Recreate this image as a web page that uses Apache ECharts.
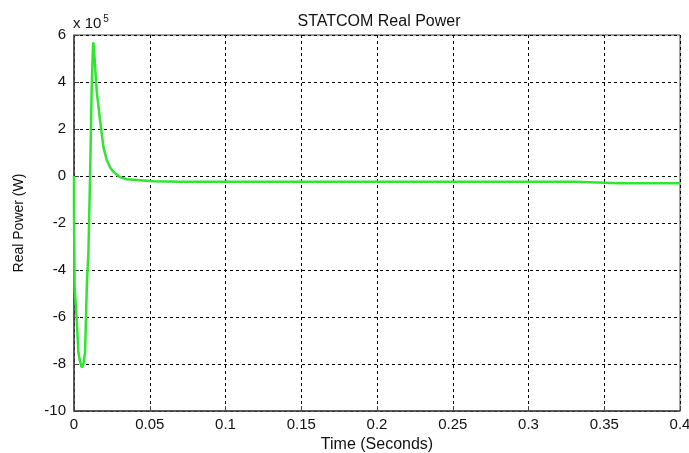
<!DOCTYPE html>
<html>
<head>
<meta charset="utf-8">
<script src="https://cdn.jsdelivr.net/npm/echarts@6/dist/echarts.min.js"></script>
<style>
  html, body { margin: 0; padding: 0; background: #fff; }
  #chart { width: 689px; height: 453px; }
</style>
</head>
<body>
<div id="chart"></div>
<script>
// STATCOM real power response, values in units of 10^5 W
const timeSec = [0, 0, 0.0004, 0.0018, 0.0029, 0.0040, 0.0051, 0.0062, 0.0073, 0.0085, 0.0095,
  0.0106, 0.0117, 0.0124, 0.0128, 0.0134, 0.0150, 0.0172, 0.0194, 0.0216, 0.0240,
  0.0260, 0.0304, 0.0348, 0.0437, 0.0525, 0.07, 0.1, 0.15, 0.2, 0.25, 0.3, 0.331, 0.332, 0.36, 0.4];
const powerE5 = [0, -1.5, -4.7, -6.1, -7.5, -7.9, -8.15, -8.0, -7.5, -4.6, -3.3,
  -0.03, 3.8, 5.3, 5.69, 5.2, 3.6, 2.37, 1.24, 0.68, 0.35,
  0.18, -0.05, -0.14, -0.18, -0.22, -0.24, -0.24, -0.24, -0.24, -0.24, -0.24, -0.24, -0.31, -0.31, -0.31];
const xTicks = { min: 0, max: 0.4, step: 0.05 };
const yTicks = { min: -10, max: 6, step: 2 };

const chart = echarts.init(document.getElementById('chart'));
const font = 'Liberation Sans, Arial, sans-serif';
const gridLine = { show: true, lineStyle: { color: '#000', type: [3, 3], width: 1 } };

chart.setOption({
  animation: false,
  backgroundColor: '#fff',
  title: {
    text: 'STATCOM Real Power',
    left: 374, top: 9, textAlign: 'center',
    textStyle: { fontFamily: font, fontSize: 16, fontWeight: 'normal', color: '#111' }
  },
  graphic: [{
    type: 'text', left: 73, top: 14,
    style: {
      text: 'x 10{s|5}', fontFamily: font, fontSize: 15, fill: '#111',
      rich: { s: { fontSize: 10, verticalAlign: 'top', padding: [0, 0, 9, 2], fontFamily: font } }
    }
  }],
  grid: { left: 74, right: 9, top: 35, bottom: 42, show: true, borderColor: '#444', borderWidth: 1, outerBoundsMode: 'none', containLabel: false },
  xAxis: {
    type: 'value', min: xTicks.min, max: xTicks.max, interval: xTicks.step,
    name: 'Time (Seconds)', nameLocation: 'middle', nameGap: 22,
    nameTextStyle: { fontFamily: font, fontSize: 16, color: '#111' },
    axisLine: { onZero: false, lineStyle: { color: '#444', width: 1.5 } },
    axisTick: { inside: true, length: 5, lineStyle: { color: '#444' } },
    axisLabel: { fontFamily: font, fontSize: 15, color: '#111', margin: 6 },
    splitLine: gridLine
  },
  yAxis: {
    type: 'value', min: yTicks.min, max: yTicks.max, interval: yTicks.step,
    name: 'Real Power (W)', nameLocation: 'middle', nameGap: 48,
    nameTextStyle: { fontFamily: font, fontSize: 14, color: '#111' },
    axisLine: { show: true, onZero: false, lineStyle: { color: '#444', width: 1.5 } },
    axisTick: { show: true, inside: true, length: 5, lineStyle: { color: '#444' } },
    axisLabel: { fontFamily: font, fontSize: 15, color: '#111', margin: 8 },
    splitLine: gridLine
  },
  series: [{
    type: 'line',
    data: timeSec.map((t, i) => [t, powerE5[i]]),
    showSymbol: false,
    smooth: false,
    lineStyle: { color: '#2ee62e', width: 2.5 }
  }]
});
</script>
</body>
</html>
